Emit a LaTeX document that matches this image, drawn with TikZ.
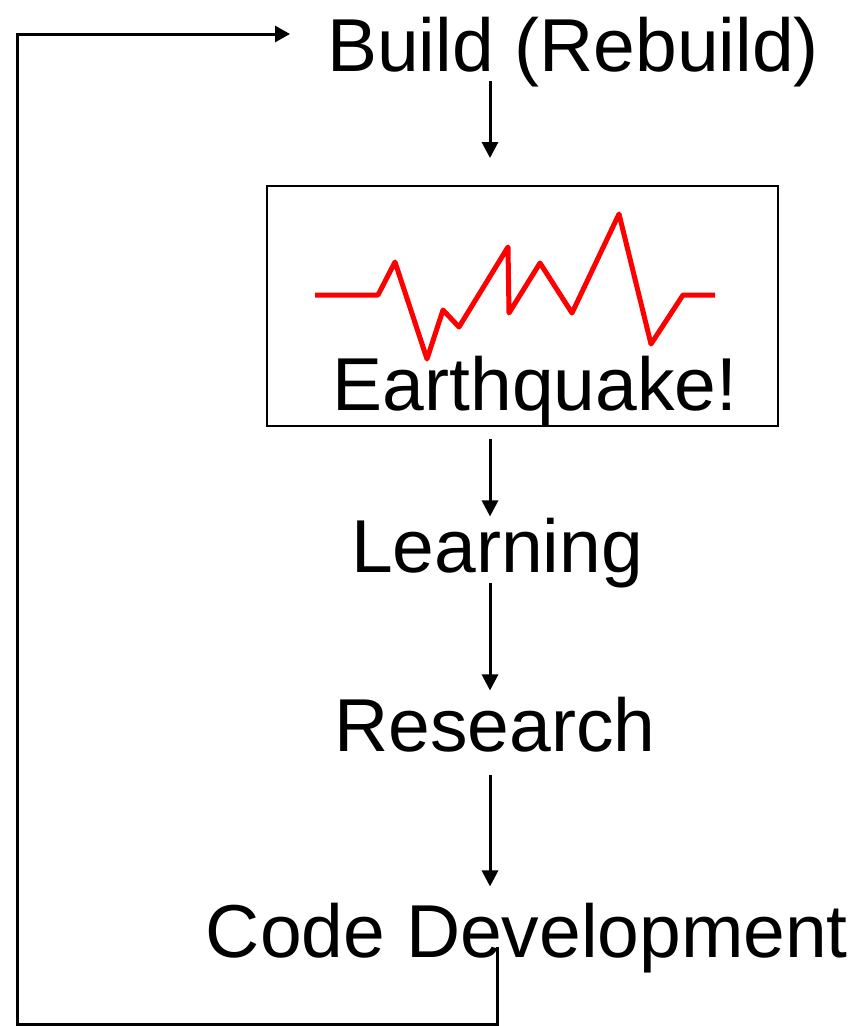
\documentclass[tikz,border=0pt]{standalone}
\usepackage{fontspec}
\setmainfont{Liberation Sans}
\usetikzlibrary{arrows.meta}
\begin{document}
\begin{tikzpicture}[x=1pt,y=-1pt,
  lbl/.style={inner sep=0pt,anchor=base,font=\fontsize{75pt}{82pt}\selectfont},
  arr/.style={line width=3pt,-{Triangle[width=16pt,length=16pt]}},
  loopline/.style={line width=3pt,-{Triangle[width=16pt,length=15pt]}},
  quakebox/.style={draw,line width=2pt,minimum width=511pt,minimum height=240pt,inner sep=0pt},
  seis/.style={draw=red,line width=5pt,line join=round}]
\useasboundingbox (0,0) rectangle (855,1026);
\coordinate (ax) at (490,0);
\coordinate (lx) at (497,0);
\coordinate (loopend) at (290,34);

\node[lbl] (build) at (573,71) {Build (Rebuild)};
\node[quakebox] (quake) at (522.5,306) {};
\draw[seis] (315,295) -- (378,295) -- (395,262) -- (427,359) -- (443,310) -- (459,327)
  -- (508,247) -- (509,313) -- (540,263) -- (572,313) -- (619,214) -- (651,344)
  -- (683,295) -- (715,295);
\node[lbl] (eq) at (535,410) {Earthquake!};
\node[lbl] (learn) at (497,572) {Learning};
\node[lbl] (res) at (495,751) {Research};
\node[lbl] (code) at (527,957) {Code Development};

\draw[arr] ([yshift=-10pt]build.base -| ax) -- ([yshift=27pt]quake.north -| ax);
\draw[arr,shorten <=12pt] (quake.south -| ax) -- ([yshift=1pt]learn.north -| ax);
\draw[arr] ([yshift=-11pt]learn.base -| ax) -- ([yshift=6pt]res.north -| ax);
\draw[arr,shorten <=23pt] (res.south -| ax) -- ([yshift=16pt]code.north -| ax);
\draw[loopline] ([yshift=10pt]code.base -| lx) -- (lx |- 0,1024) -- (17,1024) -- (17,34) -- (loopend);
\end{tikzpicture}
\end{document}
